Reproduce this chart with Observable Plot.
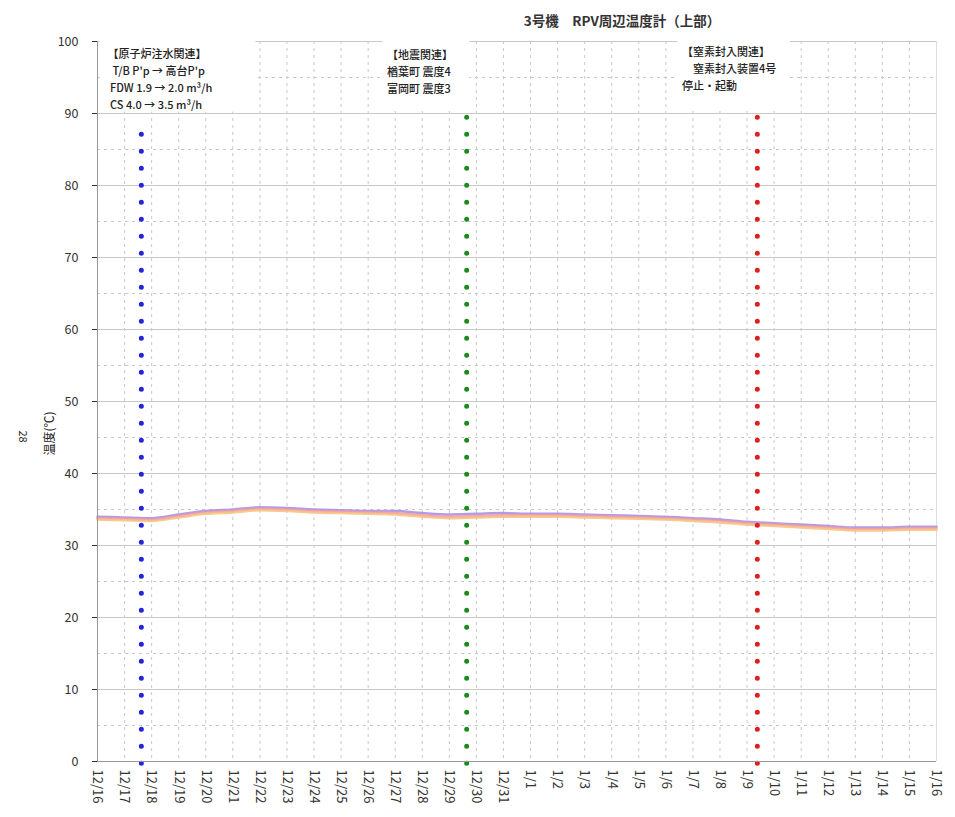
<!DOCTYPE html>
<html><head><meta charset="utf-8">
<script src="https://cdn.jsdelivr.net/npm/d3@7"></script>
<script src="https://cdn.jsdelivr.net/npm/@observablehq/plot@0.6"></script>
<style>
body{margin:0;background:#fff;font-family:"Noto Sans CJK JP","Noto Sans",sans-serif}
#chart svg{display:block}
</style>
</head><body><div id="chart"></div>
<script>
const dayLabels = ["12/16","12/17","12/18","12/19","12/20","12/21","12/22","12/23","12/24","12/25","12/26","12/27","12/28","12/29","12/30","12/31",
  "1/1","1/2","1/3","1/4","1/5","1/6","1/7","1/8","1/9","1/10","1/11","1/12","1/13","1/14","1/15","1/16"];
const purpleSeries = [34.0,33.9,33.8,34.3,34.8,35.0,35.3,35.2,35.0,34.9,34.8,34.8,34.5,34.3,34.4,34.5,34.4,34.4,34.3,34.2,34.1,34.0,33.8,33.6,33.3,33.1,32.9,32.7,32.5,32.5,32.6,32.6];
const pinkSeries   = [33.8,33.7,33.6,34.1,34.6,34.8,35.1,35.0,34.8,34.7,34.6,34.5,34.2,34.0,34.1,34.2,34.2,34.2,34.1,34.0,33.9,33.8,33.6,33.4,33.1,32.9,32.7,32.5,32.3,32.3,32.4,32.4];
const orangeSeries = [33.6,33.5,33.4,33.9,34.4,34.6,34.9,34.8,34.6,34.5,34.4,34.3,34.0,33.8,33.9,34.0,34.0,34.0,33.9,33.8,33.7,33.6,33.4,33.2,32.9,32.7,32.5,32.3,32.1,32.1,32.2,32.2];
const seriesNames = ["purple","pink","orange"];
const seriesColors = {purple:"#a58be6", pink:"#f29aa0", orange:"#f7c07e"};

const eventDays = [1.62, 13.64, 24.38];
const eventTops = [88, 90, 91.5];
const eventColors = ["#2424d8","#1c8a1c","#e01e1e"];

const noteTexts = [
  "【原子炉注水関連】\n\u00a0\u00a0T/B P'p → 高台P'p\n\u00a0FDW 1.9 → 2.0 m³/h\n\u00a0CS 4.0 → 3.5 m³/h",
  "【地震関連】\n楢葉町 震度4\n富岡町 震度3",
  "【窒素封入関連】\n\u3000窒素封入装置4号\n停止・起動"
];
const noteX = [0.37, 10.7, 21.6];
const noteY = [99.4, 99.2, 99.7];
const noteBoxX1 = [0.1, 10.55, 21.45];
const noteBoxX2 = [5.85, 13.75, 25.6];
const noteBoxY2 = [90.2, 90.3, 90.3];

const lineData = [];
seriesNames.forEach((s, k) => {
  const arr = [purpleSeries, pinkSeries, orangeSeries][k];
  arr.forEach((v, i) => lineData.push({day: i, value: v, series: s}));
});
const events = eventDays.map((d, i) => ({day: d, top: eventTops[i], color: eventColors[i]}));
const notes = noteTexts.map((t, i) => ({text: t, x: noteX[i], y: noteY[i], x1: noteBoxX1[i], x2: noteBoxX2[i], y2: noteBoxY2[i]}));

const font = '"Noto Sans CJK JP","Noto Sans",sans-serif';
const gridColor = "#c8c8c8";

const chart = Plot.plot({
  width: 955,
  height: 817,
  marginLeft: 97,
  marginRight: 19,
  marginTop: 41,
  marginBottom: 56,
  style: {fontFamily: font, fontSize: "12.5px", color: "#333", background: "#fff"},
  x: {domain: [0, 31], label: null},
  y: {domain: [0, 100], label: null},
  marks: [
    Plot.ruleY(d3.range(5, 100, 10), {stroke: gridColor, strokeDasharray: "3,4", strokeWidth: 1}),
    Plot.ruleX(d3.range(1, 31), {stroke: gridColor, strokeDasharray: "3,4", strokeWidth: 1}),
    Plot.ruleY(d3.range(10, 101, 10), {stroke: gridColor, strokeWidth: 1}),
    Plot.ruleX([31], {stroke: "#ddd", strokeWidth: 1}),
    Plot.axisX({ticks: d3.range(0, 32), tickFormat: i => dayLabels[i], tickRotate: 90, tickSize: 0, tickPadding: 8, fontSize: 13}),
    Plot.axisY({ticks: d3.range(0, 101, 10), tickSize: 5, tickPadding: 14, fontSize: 12.5}),
    Plot.rect(notes, {x1: "x1", x2: "x2", y1: "y2", y2: 100, fill: "white"}),
    Plot.line(lineData, {x: "day", y: "value", z: "series", stroke: d => seriesColors[d.series], strokeWidth: 2.5, strokeOpacity: 0.85, curve: "monotone-x"}),
    Plot.ruleX(events, {x: "day", y1: -0.3, y2: "top", stroke: "color", strokeWidth: 5, strokeDasharray: "0,17", strokeLinecap: "round"}),
    Plot.ruleX([0], {stroke: "#999", strokeWidth: 1}),
    Plot.ruleY([0], {stroke: "#999", strokeWidth: 1}),
    Plot.text(notes, {x: "x", y: "y", text: "text", textAnchor: "start", lineAnchor: "top", lineHeight: 1.55, fontSize: 11, fill: "#222", fontWeight: 500}),
    Plot.text(["3号機　RPV周辺温度計（上部）"], {frameAnchor: "top", dx: 105, dy: -25, fontSize: 13.5, fontWeight: "bold", fill: "#333"}),
    Plot.text(["温度(℃)"], {frameAnchor: "left", dx: -47, dy: 54, rotate: -90, fontSize: 12, fill: "#222"}),
    Plot.text(["28"], {frameAnchor: "left", dx: -75, dy: 29, rotate: 90, fontSize: 11, fill: "#222"})
  ]
});
document.getElementById("chart").appendChild(chart);
</script>
</body></html>
